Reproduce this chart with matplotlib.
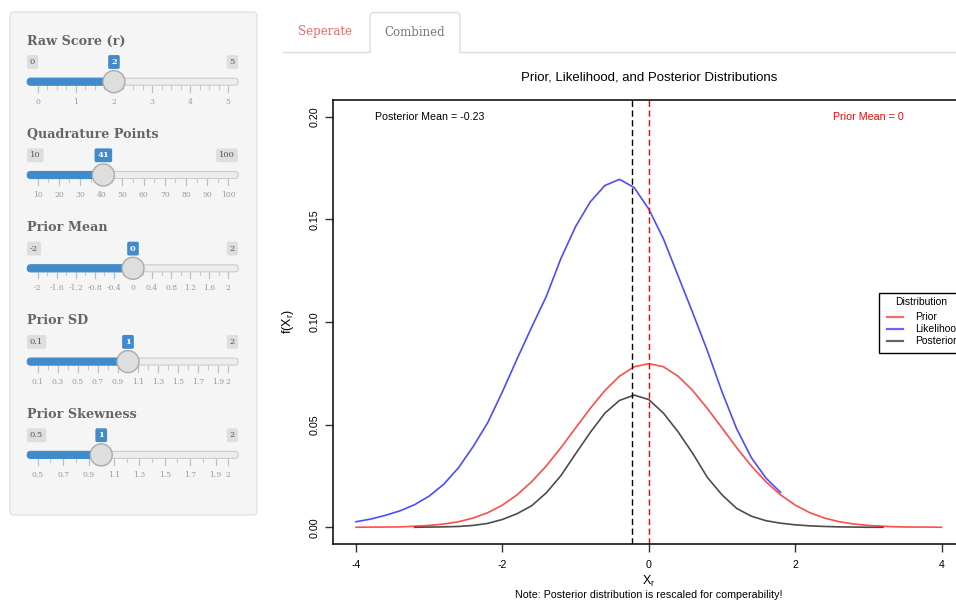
import numpy as np
import matplotlib.pyplot as plt
from matplotlib.patches import FancyBboxPatch, Circle, Rectangle

plt.rcParams['font.family'] = ['Liberation Sans', 'DejaVu Sans']
plt.rcParams['mathtext.fontset'] = 'custom'
plt.rcParams['mathtext.rm'] = 'Liberation Sans'
plt.rcParams['mathtext.it'] = 'Liberation Sans'
SERIF = 'DejaVu Serif'

# ---- plot data ----
quad_x = np.linspace(-4, 4, 41)
prior_y = [0.0000, 0.0001, 0.0001, 0.0002, 0.0005, 0.0009, 0.0016, 0.0027, 0.0045, 0.0071,
           0.0108, 0.0158, 0.0222, 0.0299, 0.0388, 0.0484, 0.0579, 0.0666, 0.0736, 0.0782,
           0.0797,
           0.0782, 0.0736, 0.0666, 0.0579, 0.0484, 0.0388, 0.0299, 0.0222, 0.0158, 0.0108,
           0.0071, 0.0045, 0.0027, 0.0016, 0.0009, 0.0005, 0.0002, 0.0001, 0.0001, 0.0000]
like_x = quad_x[:30]
like_y = [0.0027, 0.0040, 0.0058, 0.0080, 0.0110, 0.0152, 0.0210, 0.0290, 0.0393, 0.0510,
          0.0660, 0.0820, 0.0975, 0.1125, 0.1310, 0.1465, 0.1585, 0.1665, 0.1695, 0.1655,
          0.1550, 0.1405, 0.1225, 0.1045, 0.0860, 0.0660, 0.0480, 0.0340, 0.0240, 0.0170]
post_x = quad_x[4:37]
post_y = [0.0000, 0.0001, 0.0002, 0.0004, 0.0009, 0.0019, 0.0038, 0.0066, 0.0105, 0.0168,
          0.0252, 0.0358, 0.0462, 0.0556, 0.0618, 0.0644, 0.0622, 0.0556, 0.0465, 0.0360,
          0.0243, 0.0158, 0.0092, 0.0054, 0.0032, 0.0020, 0.0012, 0.0007, 0.0004, 0.0002,
          0.0001, 0.0000, 0.0000]
post_mean = -0.23
prior_mean = 0
legend_labels = ['Prior', 'Likelihood', 'Posterior']

# ---- sidebar sliders ----
slider_labels = ['Raw Score (r)', 'Quadrature Points', 'Prior Mean', 'Prior SD', 'Prior Skewness']
slider_min = ['0', '10', '-2', '0.1', '0.5']
slider_max = ['5', '100', '2', '2', '2']
slider_val = ['2', '41', '0', '1', '1']
slider_ticks = [
    ['0', '1', '2', '3', '4', '5'],
    ['10', '20', '30', '40', '50', '60', '70', '80', '90', '100'],
    ['-2', '-1.6', '-1.2', '-0.8', '-0.4', '0', '0.4', '0.8', '1.2', '1.6', '2'],
    ['0.1', '0.3', '0.5', '0.7', '0.9', '1.1', '1.3', '1.5', '1.7', '1.9', '2'],
    ['0.5', '0.7', '0.9', '1.1', '1.3', '1.5', '1.7', '1.9', '2'],
]
tab_labels = ['Seperate', 'Combined']

W, H = 956, 601
fig = plt.figure(figsize=(W / 100, H / 100), dpi=100)

def px(x, y):
    return x / W, 1 - y / H

# UI layer in pixel coordinates
ui = fig.add_axes([0, 0, 1, 1], zorder=0)
ui.set_xlim(0, W)
ui.set_ylim(H, 0)
ui.axis('off')

BLUE = '#428bca'
ui.add_patch(FancyBboxPatch((10, 12), 247, 503, boxstyle='round,pad=0,rounding_size=4',
                            fc='#f5f5f5', ec='#e3e3e3', lw=1))

X0, X1 = 37.7, 228.3
for i in range(len(slider_labels)):
    lo, hi, val = float(slider_min[i]), float(slider_max[i]), float(slider_val[i])
    pos = lambda v: X0 + (v - lo) / (hi - lo) * (X1 - X0)
    y0 = 41 + 93.3 * i
    ui.text(27, y0, slider_labels[i], fontfamily=SERIF, fontweight='bold', fontsize=9.2,
            color='#666666', va='center', ha='left')
    yb = y0 + 21
    ui.text(30, yb, slider_min[i], fontfamily=SERIF, fontsize=6, color='#555555', va='center',
            ha='left', bbox=dict(boxstyle='round,pad=0.35,rounding_size=0.2', fc='#dedede', ec='none'))
    ui.text(235, yb, slider_max[i], fontfamily=SERIF, fontsize=6, color='#555555', va='center',
            ha='right', bbox=dict(boxstyle='round,pad=0.35,rounding_size=0.2', fc='#dedede', ec='none'))
    hx = pos(val)
    ui.text(hx, yb, slider_val[i], fontfamily=SERIF, fontsize=6, fontweight='bold', color='white',
            va='center', ha='center',
            bbox=dict(boxstyle='round,pad=0.35,rounding_size=0.2', fc=BLUE, ec='none'), zorder=4)
    yt = yb + 19.7
    ui.add_patch(FancyBboxPatch((27.3, yt - 3.5), 211, 7, boxstyle='round,pad=0,rounding_size=3.5',
                                fc='#ededed', ec='#cccccc', lw=0.8, zorder=2))
    ui.add_patch(FancyBboxPatch((27.3, yt - 3.5), hx - 27.3, 7, boxstyle='round,pad=0,rounding_size=3.5',
                                fc=BLUE, ec=BLUE, lw=0.8, zorder=2))
    # grid ticks
    tv = [float(t) for t in slider_ticks[i]]
    step = tv[1] - tv[0]
    nsub = 4 if (pos(tv[1]) - pos(tv[0])) > 30 else 2
    m = lo
    while m < hi - 1e-9:
        xm = pos(m)
        if min(abs(m - t) for t in tv) > 1e-6:
            ui.plot([xm, xm], [yt + 4, yt + 7], color='#c8c8c8', lw=0.8, zorder=1)
        m += step / nsub
    for t, lbl in zip(tv, slider_ticks[i]):
        xt = pos(t)
        ui.plot([xt, xt], [yt + 4, yt + 10], color='#a8c4e0', lw=0.9, zorder=1)
        ui.text(xt, yt + 20, lbl, fontfamily=SERIF, fontsize=5.5, color='#9a9a9a', ha='center', va='center')
    ui.add_patch(Circle((hx, yt), 11, fc='#dedede', ec='#ababab', lw=1, zorder=3))

# tabs
ui.plot([283, 370], [52, 52], color='#dddddd', lw=1)
ui.plot([460, W], [52, 52], color='#dddddd', lw=1)
ui.add_patch(FancyBboxPatch((370, 12.5), 90, 48, boxstyle='round,pad=0,rounding_size=4',
                            fc='white', ec='#dddddd', lw=1))
ui.add_patch(Rectangle((369, 52.6), 93, 10, fc='white', ec='none', zorder=3))
ui.text(325.5, 32, tab_labels[0], fontfamily=SERIF, fontsize=8.5, color='#eb6864', ha='center', va='center')
ui.text(414.7, 32, tab_labels[1], fontfamily=SERIF, fontsize=8.5, color='#777777', ha='center', va='center')

# ---- main plot ----
left, right, top, bottom = 332.6, 965.0, 100.3, 543.7
ax = fig.add_axes([left / W, 1 - bottom / H, (right - left) / W, (bottom - top) / H], zorder=1)
ax.set_xlim(-4.32, 4.32)
ax.set_ylim(-0.008, 0.208)
ax.plot(post_x, post_y, color='black', alpha=0.7, lw=1.2)
ax.plot(like_x, like_y, color='blue', alpha=0.7, lw=1.2)
ax.plot(quad_x, prior_y, color='red', alpha=0.7, lw=1.2)
ax.axvline(post_mean, color='black', lw=1, dashes=(4.5, 2.5))
ax.axvline(prior_mean, color='red', lw=1, dashes=(4.5, 2.5))
ax.text(-3, 0.2, 'Posterior Mean = %.2f' % post_mean, fontsize=7.7, ha='center', va='center')
ax.text(3, 0.2, 'Prior Mean = %d' % prior_mean, fontsize=7.7, color='red', ha='center', va='center')

ax.set_xticks([-4, -2, 0, 2, 4])
ax.set_xticklabels(['-4', '-2', '0', '2', '4'])
ax.set_yticks([0, 0.05, 0.10, 0.15, 0.20])
ax.set_yticklabels(['0.00', '0.05', '0.10', '0.15', '0.20'])
ax.tick_params(axis='both', length=6, width=1, labelsize=7.7, color='#333333')
ax.tick_params(axis='x', pad=6)
ax.tick_params(axis='y', pad=3, labelrotation=90)
for lbl in ax.get_yticklabels():
    lbl.set_va('center')
for s in ax.spines.values():
    s.set_linewidth(1.1)

fig.text(*px(648.8, 77), 'Prior, Likelihood, and Posterior Distributions', fontsize=9.5,
         ha='center', va='center')
fig.text(*px(648.8, 581), r'$\mathrm{X_r}$', fontsize=9, ha='center', va='center')
fig.text(*px(648.8, 595), 'Note: Posterior distribution is rescaled for comperability!', fontsize=7.7,
         ha='center', va='center')
fig.text(*px(288, 322), r'$\mathrm{f(X_r)}$', fontsize=9, rotation=90, ha='center', va='center')

# legend (drawn by hand so it is cut at the right edge like the original)
top_layer = fig.add_axes([0, 0, 1, 1], zorder=5)
top_layer.set_xlim(0, W)
top_layer.set_ylim(H, 0)
top_layer.axis('off')
top_layer.patch.set_alpha(0)
top_layer.add_patch(Rectangle((879, 292.7), 110, 60, fc='white', ec='black', lw=1))
top_layer.text(921, 302, 'Distribution', fontsize=7.5, ha='center', va='center')
for lbl, col, yy in zip(legend_labels, ['red', 'blue', 'black'], [316.7, 328.5, 341]):
    top_layer.plot([887, 903], [yy, yy], color=col, alpha=0.6, lw=1.6)
    top_layer.text(915, yy, lbl, fontsize=7.5, ha='left', va='center')

fig.savefig('out.png', dpi=100)
